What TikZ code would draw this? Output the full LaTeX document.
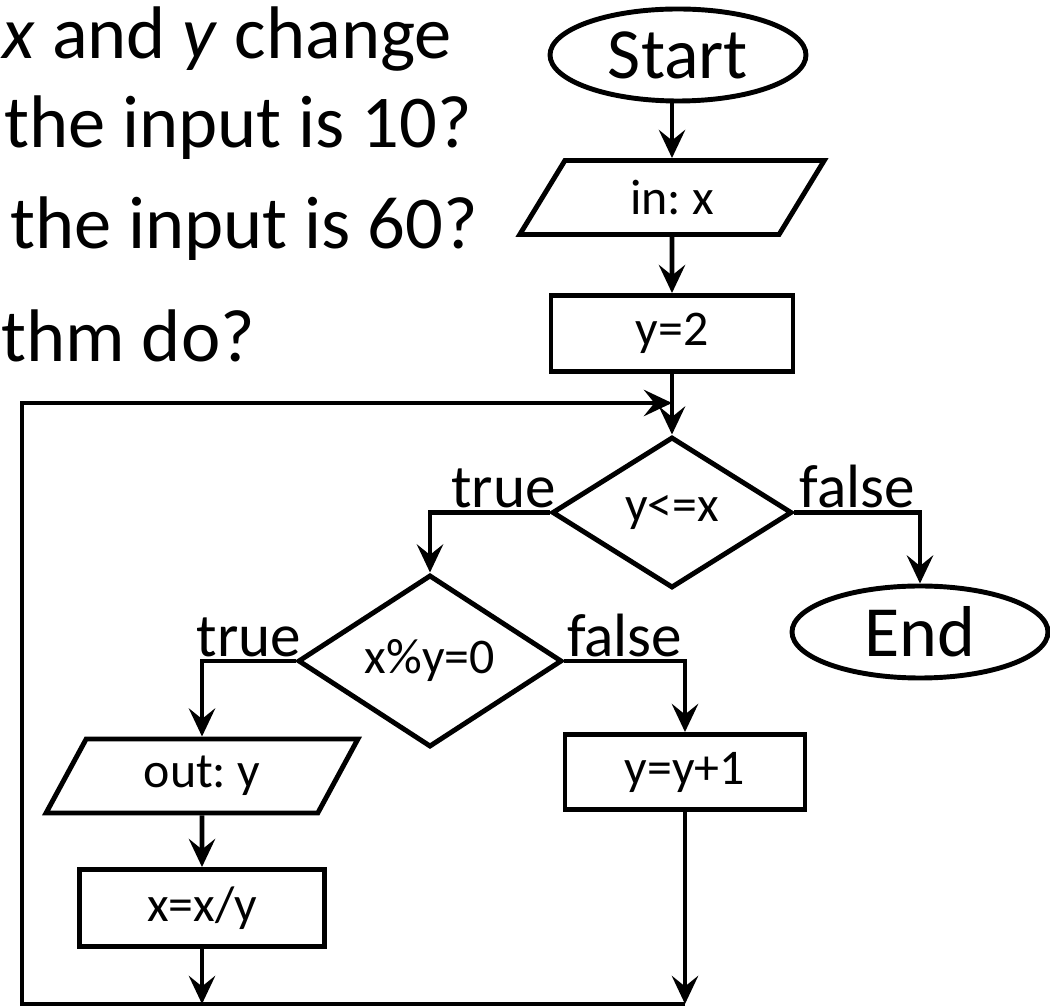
\documentclass[tikz,border=0pt]{standalone}
\usepackage{fontspec}
\setmainfont{Carlito}
\frenchspacing
\usepackage{tikz}
\usetikzlibrary{positioning}
\usetikzlibrary{shapes.geometric}
\usetikzlibrary{arrows.meta}
\usetikzlibrary{calc}

\begin{document}
\begin{tikzpicture} [
        line width=1.4pt,
        arr/.style={-{Stealth[length=8pt,width=7.5pt,inset=3pt]}},
        term/.style={ellipse, draw, inner sep=0pt, minimum width=2.56cm,
            minimum height=0.92cm, font=\fontsize{20.5}{24}\selectfont},
        io/.style={trapezium, trapezium left angle=63, trapezium right angle=117,
            trapezium stretches=true, draw, inner sep=0pt, minimum height=0.74cm,
            font=\fontsize{14.2}{17}\selectfont},
        proc/.style={rectangle, draw, inner sep=0pt, minimum height=0.76cm,
            font=\fontsize{14.2}{17}\selectfont},
        test/.style={diamond, draw, inner sep=0pt, font=\fontsize{14.2}{17}\selectfont},
        lbl/.style={inner sep=0.5pt, font=\fontsize{17.4}{20}\selectfont},
        ask/.style={anchor=base west, inner sep=0pt, font=\fontsize{21.2}{25}\selectfont}
    ]
    \useasboundingbox (0,0) rectangle (10.5,10.07);

    % questions on the left, running off the edge
    \node[ask] (q1) at (0.00,9.48) {\textit{x} and \textit{y} change};
    \node[ask] (q2) at (0.02,8.59) {the input is 10?};
    \node[ask] (q3) at (0.08,7.58) {the input is 60?};
    \node[ask] (q4) at (-0.01,6.45) {thm do?};

    % flowchart
    \node[term] (start) at (6.78,9.52) {Start};
    \node[io, minimum width=3.05cm] (in) at (6.72,8.095) {in: x};
    \node[proc, minimum width=2.42cm] (y2) at (6.72,6.735) {y=2};
    \node[test, minimum width=2.4cm, minimum height=1.51cm] (c1) at (6.72,4.945) {y<=x};
    \node[term] (stop) at (9.20,3.75) {End};
    \node[test, minimum width=2.64cm, minimum height=1.47cm] (c2) at (4.30,3.46) {x\%y=0};
    \node[io, minimum width=3.12cm] (out) at (2.02,2.31) {out: y};
    \node[proc, minimum width=2.45cm, minimum height=0.77cm] (div) at (2.02,0.99) {x=x/y};
    \node[proc, minimum width=2.4cm, minimum height=0.75cm] (inc) at (6.85,2.35) {y=y+1};

    \coordinate (b1) at (div.south |- 0,0.03);
    \coordinate (b2) at (inc.south |- 0,0.03);
    \coordinate (corner) at (0.22,0.03);
    \coordinate (join) at (y2.south |- 0,6.04);

    \draw[arr] (start.south -| in.north) -- (in.north);
    \draw[arr] (in.south) -- (y2.north);
    \draw[arr] (y2.south) -- (c1.north);
    \draw[arr] (c1.west) -- node[lbl, above, pos=0.385] {true} (c1.west -| c2.north) -- (c2.north);
    \draw[arr] (c1.east) -- node[lbl, above] {false} (c1.east -| stop.north) -- (stop.north);
    \draw[arr] (c2.west) -- node[lbl, above] {true} (c2.west -| out.north) -- (out.north);
    \draw[arr] (c2.east) -- node[lbl, above] {false} (c2.east -| inc.north) -- (inc.north);
    \draw[arr] (out.south) -- (div.north);
    \draw[arr] (div.south) -- (b1);
    \draw[arr] (inc.south) -- (b2);
    \draw[arr] (b2) -- (corner) |- (join);
\end{tikzpicture}
\end{document}
